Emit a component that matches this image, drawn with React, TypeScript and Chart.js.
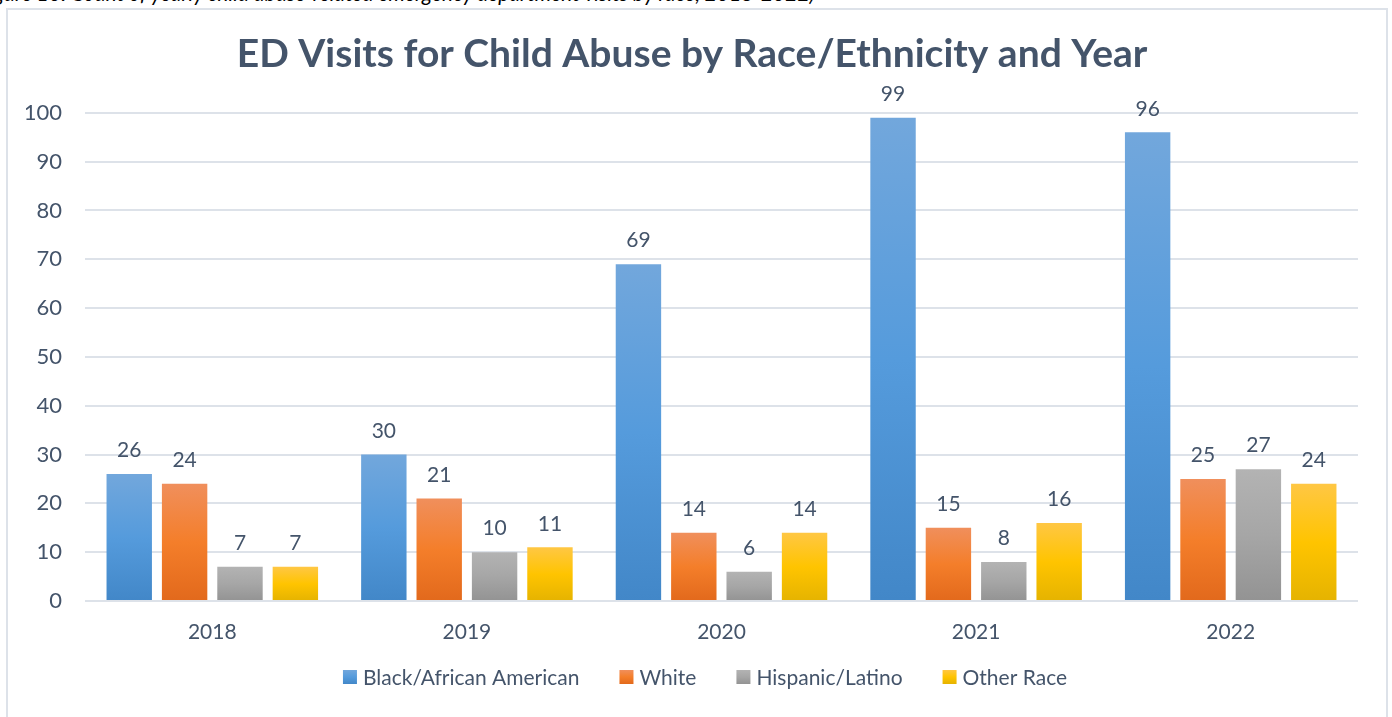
import React, { useEffect, useRef } from "react";
import { Chart, registerables } from "chart.js";

Chart.register(...registerables);

const years = ["2018", "2019", "2020", "2021", "2022"];
const seriesNames = ["Black/African American", "White", "Hispanic/Latino", "Other Race"];
const blackValues = [26, 30, 69, 99, 96];
const whiteValues = [24, 21, 14, 15, 25];
const hispanicValues = [7, 10, 6, 8, 27];
const otherValues = [7, 11, 14, 16, 24];
const yMax = 100;
const yStep = 10;

const titleText = "ED Visits for Child Abuse by Race/Ethnicity and Year";
const captionText =
  "Figure 10. Count of yearly child abuse-related emergency department visits by race, 2018-2022)";

const blueStops = ["#72a7dc", "#559bdc", "#4287c8"];
const orangeStops = ["#f08f5c", "#f47e2a", "#e2691c"];
const grayStops = ["#b3b3b3", "#a6a6a6", "#939393"];
const goldStops = ["#ffc744", "#ffc400", "#e5b300"];
const allStops = [blueStops, orangeStops, grayStops, goldStops];
const allValues = [blackValues, whiteValues, hispanicValues, otherValues];

const TEXT = "#44546a";
const GRID = "#dde2e9";
const FONT = "Lato, 'Open Sans', sans-serif";

function gradientFor(stops: string[]) {
  return (ctx: any) => {
    const chart = ctx.chart;
    if (!chart.chartArea || ctx.type !== "data") return stops[1];
    const yScale = chart.scales.y;
    const v = ctx.raw as number;
    const top = yScale.getPixelForValue(v);
    const bottom = yScale.getPixelForValue(0);
    if (!isFinite(top) || !isFinite(bottom) || bottom - top < 1) return stops[1];
    const g = chart.ctx.createLinearGradient(0, top, 0, bottom);
    g.addColorStop(0, stops[0]);
    g.addColorStop(0.5, stops[1]);
    g.addColorStop(1, stops[2]);
    return g;
  };
}

const valueLabels = {
  id: "valueLabels",
  afterDatasetsDraw(chart: any) {
    const ctx = chart.ctx;
    ctx.save();
    ctx.fillStyle = TEXT;
    ctx.font = `21px ${FONT}`;
    ctx.textAlign = "center";
    ctx.textBaseline = "bottom";
    chart.data.datasets.forEach((ds: any, i: number) => {
      const meta = chart.getDatasetMeta(i);
      meta.data.forEach((bar: any, j: number) => {
        ctx.fillText(String(ds.data[j]), bar.x, bar.y - 13);
      });
    });
    ctx.restore();
  },
};

const bottomLegend = {
  id: "bottomLegend",
  afterDraw(chart: any) {
    const ctx = chart.ctx;
    const box = 14;
    const gap = 6;
    const itemGap = 40;
    ctx.save();
    ctx.font = `21px ${FONT}`;
    const widths = seriesNames.map((n) => ctx.measureText(n).width);
    const total = widths.reduce((a, w) => a + box + gap + w, 0) + itemGap * (seriesNames.length - 1);
    let x = chart.width / 2 + 8 - total / 2;
    const cy = chart.chartArea.bottom + 76;
    ctx.textBaseline = "middle";
    ctx.textAlign = "left";
    seriesNames.forEach((n, i) => {
      const g = ctx.createLinearGradient(0, cy - box / 2, 0, cy + box / 2);
      g.addColorStop(0, allStops[i][0]);
      g.addColorStop(0.5, allStops[i][1]);
      g.addColorStop(1, allStops[i][2]);
      ctx.fillStyle = g;
      ctx.fillRect(x, cy - box / 2, box, box);
      x += box + gap;
      ctx.fillStyle = TEXT;
      ctx.fillText(n, x, cy + 1);
      x += widths[i] + itemGap;
    });
    ctx.restore();
  },
};

export default function App() {
  const canvasRef = useRef<HTMLCanvasElement | null>(null);

  useEffect(() => {
    document.body.style.margin = "0";
    const canvas = canvasRef.current;
    if (!canvas) return;
    const chart = new Chart(canvas, {
      type: "bar",
      data: {
        labels: years,
        datasets: seriesNames.map((name, i) => ({
          label: name,
          data: allValues[i],
          backgroundColor: gradientFor(allStops[i]),
          borderWidth: 0,
          categoryPercentage: 0.87,
          barPercentage: 0.82,
        })),
      },
      options: {
        animation: false,
        responsive: false,
        maintainAspectRatio: false,
        layout: { padding: { left: 18, right: 28, top: 0, bottom: 72 } },
        plugins: {
          title: {
            display: true,
            text: titleText,
            color: TEXT,
            font: { family: FONT, size: 39, weight: "bold" },
            padding: { top: 21, bottom: 35 },
          },
          legend: { display: false },
          tooltip: { enabled: false },
        },
        scales: {
          x: {
            grid: { display: false, drawTicks: false },
            border: { display: false },
            ticks: { color: TEXT, font: { family: FONT, size: 21 }, padding: 19 },
            afterFit: (scale: any) => {
              scale.height = 44;
            },
          },
          y: {
            min: 0,
            max: yMax,
            ticks: { stepSize: yStep, color: TEXT, font: { family: FONT, size: 22 }, padding: 23 },
            grid: { color: GRID, lineWidth: 2, drawTicks: false },
            border: { display: false },
            afterFit: (scale: any) => {
              scale.width = 59;
            },
          },
        },
      },
      plugins: [valueLabels, bottomLegend],
    });
    return () => chart.destroy();
  }, []);

  return (
    <div style={{ position: "relative", width: 1392, height: 717, overflow: "hidden", background: "#fff" }}>
      <div
        style={{
          position: "absolute",
          left: -22,
          top: -20,
          whiteSpace: "nowrap",
          fontFamily: "Lato, sans-serif",
          fontStyle: "italic",
          fontSize: 21,
          color: "#000",
        }}
      >
        {captionText}
      </div>
      <div
        style={{
          position: "absolute",
          left: 6,
          top: 8,
          width: 1382,
          height: 730,
          border: `2px solid ${GRID}`,
          boxSizing: "border-box",
          background: "#fff",
        }}
      >
        <canvas ref={canvasRef} width={1378} height={707} style={{ display: "block" }} />
      </div>
    </div>
  );
}
